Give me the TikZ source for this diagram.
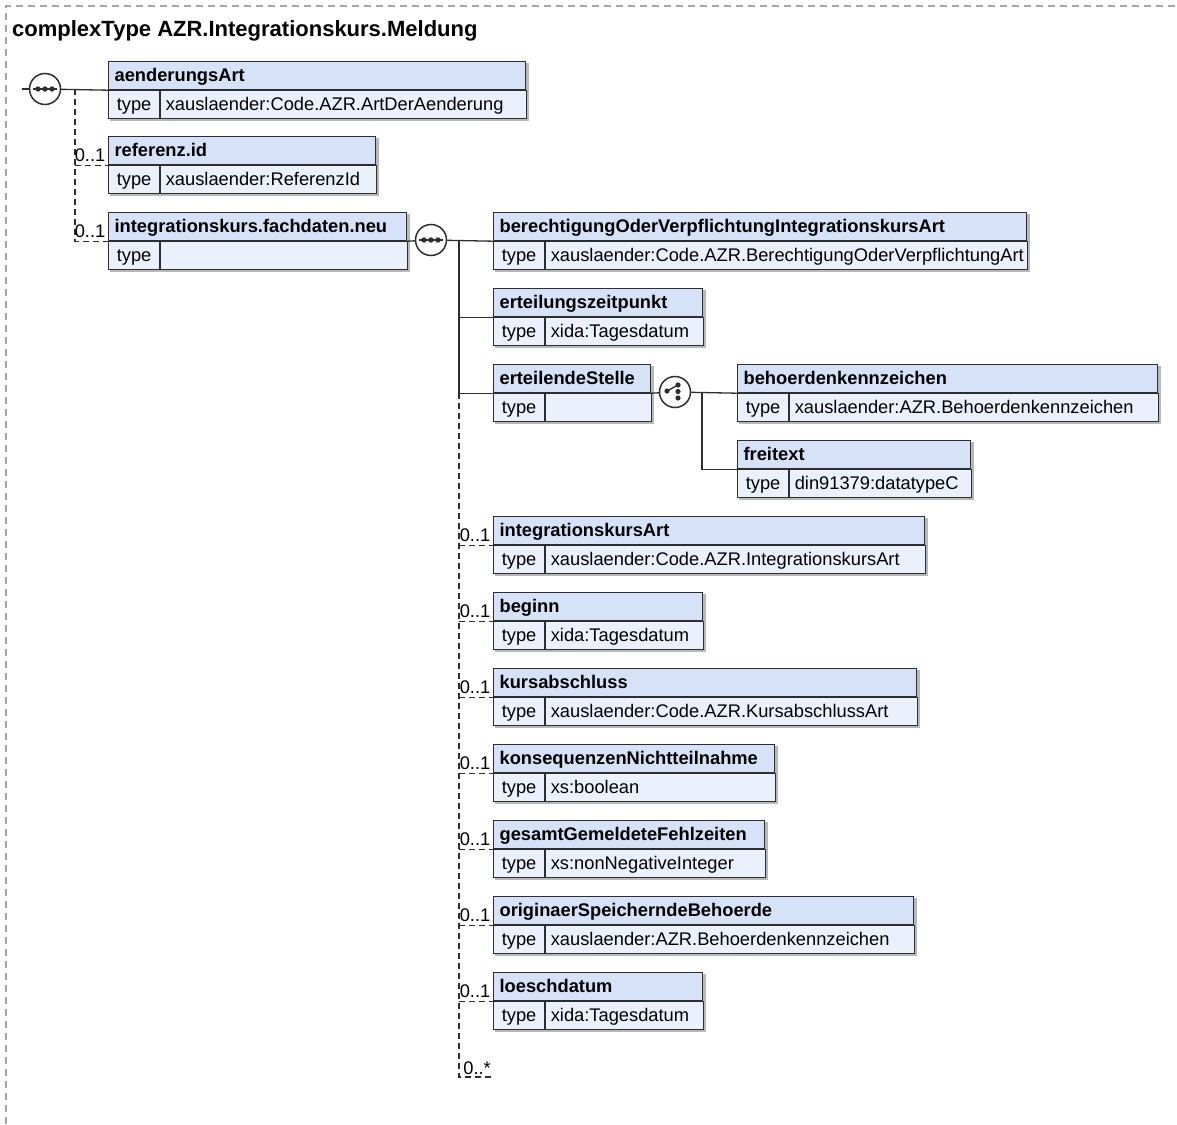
\documentclass[tikz,border=0pt]{standalone}
\usepackage{fontspec}
\setmainfont{Liberation Sans}
\usetikzlibrary{calc, backgrounds}
\definecolor{boxln}{HTML}{2E2E2E}
\definecolor{hdfill}{HTML}{D5E2F7}
\definecolor{rwfill}{HTML}{EAF1FC}
\definecolor{shd}{HTML}{B8B8B8}
\definecolor{frm}{HTML}{A6A6A6}
\newcommand{\dfont}{\fontsize{18.3}{22}\selectfont}
\tikzset{
  hd/.style={anchor=north west, draw=boxln, fill=hdfill, line width=1.2pt, minimum height=28pt,
             inner xsep=6pt, inner ysep=0pt, text height=16pt, text depth=4pt, align=left, font=\dfont\bfseries},
  ky/.style={anchor=north west, draw=boxln, fill=rwfill, line width=1.2pt, minimum width=51pt,
             minimum height=28pt, inner sep=0pt, text height=16pt, text depth=4pt},
  vl/.style={anchor=north west, draw=boxln, fill=rwfill, line width=1.2pt, minimum height=28pt,
             inner xsep=5pt, inner ysep=0pt, text height=16pt, text depth=4pt, align=left},
  ln/.style={draw=boxln, line width=1.3pt},
  oln/.style={ln, dash pattern=on 6pt off 4pt},
  mult/.style={anchor=base east, inner sep=0pt},
  seqc/.style={circle, draw=boxln, fill=white, line width=1.5pt, minimum size=31pt, inner sep=0pt,
    path picture={
      \draw[draw=boxln, line width=1.3pt] ([xshift=-12pt]path picture bounding box.center)
        -- ([xshift=12pt]path picture bounding box.center);
      \foreach \dx in {-7,0,7}
        \fill[fill=boxln] ([xshift=\dx pt]path picture bounding box.center) circle (2.7pt);}},
  chc/.style={circle, draw=boxln, fill=white, line width=1.5pt, minimum size=31pt, inner sep=0pt,
    path picture={
      \draw[draw=boxln, line width=1.3pt] ([shift={(-8pt,1pt)}]path picture bounding box.center)
        -- ([shift={(3pt,7pt)}]path picture bounding box.center);
      \fill[fill=boxln] ([shift={(-8pt,1pt)}]path picture bounding box.center) circle (2.6pt);
      \foreach \dy in {7,0.5,-6}
        \fill[fill=boxln] ([shift={(3pt,\dy pt)}]path picture bounding box.center) circle (2.6pt);}},
}
% element box: name, left, top, width, title, type
\newcommand{\elbox}[6]{%
  \pgfmathsetmacro{\elw}{#4-12}%
  \pgfmathsetmacro{\vlw}{#4-61}%
  \node[hd, text width=\elw pt] (#1) at (#2,#3) {#5};
  \node[ky] (#1k) at (#1.south west) {type};
  \node[vl, text width=\vlw pt] (#1v) at (#1k.north east) {#6};
  \begin{scope}[on background layer]
    \fill[shd] ($(#1.north west)+(2pt,-2pt)$) rectangle ($(#1v.south east)+(2pt,-2pt)$);
  \end{scope}
}

\begin{document}
\begin{tikzpicture}[x=1pt, y=-1pt, font=\dfont]
  \useasboundingbox (0,0) rectangle (1177,1124);
  \draw[frm, line width=1.2pt, dash pattern=on 7pt off 5pt] (6,1124) -- (6,6) -- (1177,6);
  \node[anchor=base west, inner sep=0pt, font=\fontsize{22}{26}\selectfont\bfseries] (ttl) at (12,37) {complexType AZR.Integrationskurs.Meldung};

  % top level sequence
  \elbox{aend}{108}{61}{417}{aenderungsArt}{xauslaender:Code.AZR.ArtDerAenderung}
  \elbox{refid}{108}{136}{267}{referenz.id}{xauslaender:ReferenzId}
  \elbox{integ}{108}{212}{298}{integrationskurs.fachdaten.neu}{}
  \coordinate (inp) at (22,89);
  \coordinate (j1) at (75,89);
  \node[seqc] (seq1) at (45,89) {};
  \draw[ln] (inp) -- (seq1);
  \draw[ln] (seq1) -- (aend.south west);
  \draw[oln] (j1) |- (integ.south west);
  \draw[oln] (j1 |- refid.south west) -- (refid.south west);
  \node[mult] (m0a) at ($(refid.south west)+(-2.5pt,4pt)$) {0..1};
  \node[mult] (m0b) at ($(integ.south west)+(-2.5pt,4pt)$) {0..1};

  % fachdaten
  \elbox{ber}{493}{212}{533}{berechtigungOderVerpflichtungIntegrationskursArt}{xauslaender:Code.AZR.BerechtigungOderVerpflichtungArt}
  \elbox{zeit}{493}{288}{209}{erteilungszeitpunkt}{xida:Tagesdatum}
  \elbox{stelle}{493}{364}{157}{erteilendeStelle}{}
  \elbox{behoerd}{737}{364}{420}{behoerdenkennzeichen}{xauslaender:AZR.Behoerdenkennzeichen}
  \elbox{frei}{737}{440}{233}{freitext}{din91379:datatypeC}
  \elbox{kart}{493}{516}{431}{integrationskursArt}{xauslaender:Code.AZR.IntegrationskursArt}
  \elbox{beginn}{493}{592}{209}{beginn}{xida:Tagesdatum}
  \elbox{abschl}{493}{668}{423}{kursabschluss}{xauslaender:Code.AZR.KursabschlussArt}
  \elbox{konseq}{493}{744}{281}{konsequenzenNichtteilnahme}{xs:boolean}
  \elbox{fehl}{493}{820}{271}{gesamtGemeldeteFehlzeiten}{xs:nonNegativeInteger}
  \elbox{orig}{493}{896}{420}{originaerSpeicherndeBehoerde}{xauslaender:AZR.Behoerdenkennzeichen}
  \elbox{loesch}{493}{972}{209}{loeschdatum}{xida:Tagesdatum}

  \node[seqc] (seq2) at (431,240) {};
  \coordinate (j2) at (459,240);
  \coordinate (anyend) at (492,1077);
  \draw[ln] (integ.south east) -- (seq2);
  \draw[ln] (seq2) -- (ber.south west);
  \draw[ln] (j2) |- (zeit.south west);
  \draw[ln] (j2) |- (stelle.south west);
  \draw[oln] (j2 |- stelle.south west) |- (anyend);
  \draw[oln] (j2 |- kart.south west) -- (kart.south west);
  \draw[oln] (j2 |- beginn.south west) -- (beginn.south west);
  \draw[oln] (j2 |- abschl.south west) -- (abschl.south west);
  \draw[oln] (j2 |- konseq.south west) -- (konseq.south west);
  \draw[oln] (j2 |- fehl.south west) -- (fehl.south west);
  \draw[oln] (j2 |- orig.south west) -- (orig.south west);
  \draw[oln] (j2 |- loesch.south west) -- (loesch.south west);
  \node[mult] (m1) at ($(kart.south west)+(-2.5pt,4pt)$) {0..1};
  \node[mult] (m2) at ($(beginn.south west)+(-2.5pt,4pt)$) {0..1};
  \node[mult] (m3) at ($(abschl.south west)+(-2.5pt,4pt)$) {0..1};
  \node[mult] (m4) at ($(konseq.south west)+(-2.5pt,4pt)$) {0..1};
  \node[mult] (m5) at ($(fehl.south west)+(-2.5pt,4pt)$) {0..1};
  \node[mult] (m6) at ($(orig.south west)+(-2.5pt,4pt)$) {0..1};
  \node[mult] (m7) at ($(loesch.south west)+(-2.5pt,4pt)$) {0..1};
  \node[mult] (m8) at ($(anyend)+(-1pt,3pt)$) {0..*};

  % choice
  \node[chc] (cho) at (675,392) {};
  \coordinate (j3) at (702,392);
  \draw[ln] (stelle.south east) -- (cho);
  \draw[ln] (cho) -- (behoerd.south west);
  \draw[ln] (j3) |- (frei.south west);
\end{tikzpicture}
\end{document}
